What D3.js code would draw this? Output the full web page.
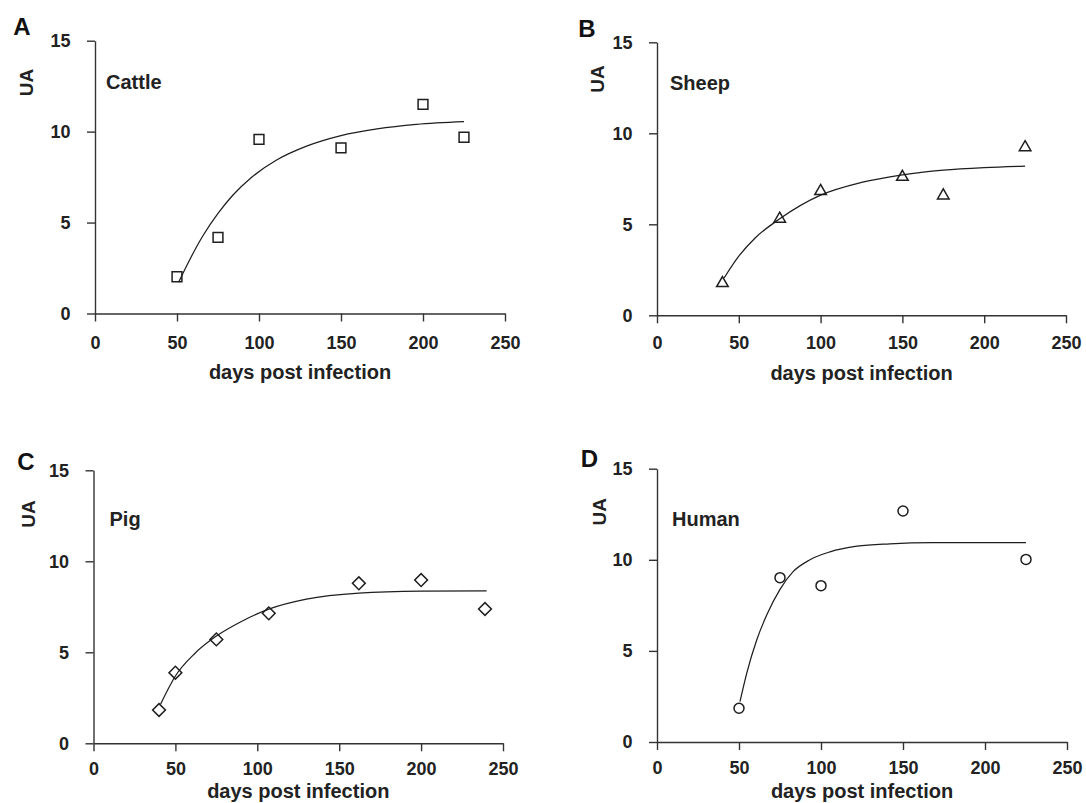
<!DOCTYPE html>
<html>
<head>
<meta charset="utf-8">
<script src="https://cdn.jsdelivr.net/npm/d3@7"></script>
<style>
  body { margin: 0; background: #fff; }
  svg { display: block; font-family: "Liberation Sans", Arial, sans-serif; font-weight: bold; }
</style>
</head>
<body>
<svg id="fig" width="1086" height="803"></svg>
<script>
// Antibody response (UA) against days post infection, four host species.

// Shared axis ticks
const xTicks = [0, 50, 100, 150, 200, 250];
const yTicks = [0, 5, 10, 15];
const xTitle = "days post infection";
const yTitle = "UA";
const panelLetters = ["A", "B", "C", "D"];
const speciesNames = ["Cattle", "Sheep", "Pig", "Human"];

// Cattle
const cattleDays = [50, 75, 100, 150, 200, 225];
const cattleUA   = [2.02, 4.19, 9.57, 9.11, 11.5, 9.69];
const cattleFitDays = [51, 58, 66, 75, 84, 95, 111, 129, 150, 172, 196, 225];
const cattleFitUA   = [1.72, 3.0, 4.3, 5.5, 6.5, 7.45, 8.45, 9.2, 9.78, 10.15, 10.4, 10.55];

// Sheep
const sheepDays = [40, 75, 100, 150, 175, 225];
const sheepUA   = [1.76, 5.3, 6.82, 7.6, 6.58, 9.23];
const sheepFitDays = [41, 50, 60, 75, 100, 125, 150, 175, 200, 225];
const sheepFitUA   = [2.05, 3.25, 4.25, 5.3, 6.6, 7.3, 7.72, 7.98, 8.12, 8.2];

// Pig
const pigDays = [40, 50, 75, 107, 162, 200, 239];
const pigUA   = [1.83, 3.88, 5.71, 7.14, 8.79, 8.97, 7.38];
const pigFitDays = [41, 50, 62, 75, 90, 107, 130, 162, 200, 240];
const pigFitUA   = [2.16, 3.7, 4.95, 5.89, 6.68, 7.37, 7.92, 8.25, 8.36, 8.38];

// Human
const humanDays = [50, 75, 100, 150, 225];
const humanUA   = [1.85, 9.02, 8.58, 12.68, 10.02];
const humanFitDays = [50.6, 54.7, 60.8, 66.9, 75, 83, 93, 105.5, 122, 142, 168, 225];
const humanFitUA   = [2.22, 3.77, 5.6, 6.97, 8.38, 9.35, 9.99, 10.44, 10.75, 10.88, 10.94, 10.94];

const series = [
  { days: cattleDays, ua: cattleUA, fitDays: cattleFitDays, fitUA: cattleFitUA, marker: "square" },
  { days: sheepDays,  ua: sheepUA,  fitDays: sheepFitDays,  fitUA: sheepFitUA,  marker: "triangle" },
  { days: pigDays,    ua: pigUA,    fitDays: pigFitDays,    fitUA: pigFitUA,    marker: "diamond" },
  { days: humanDays,  ua: humanUA,  fitDays: humanFitDays,  fitUA: humanFitUA,  marker: "circle" }
];

// Panel placement on the page
const layout = [
  { x0: 95,   x1: 505,  yB: 313.5, yT: 40.7,  letter: [22, 35],    ua: [33, 82.5],   name: [106, 89.3], tickBase: 35,   titleBase: 65.5 },
  { x0: 657,  x1: 1066, yB: 315.3, yT: 42.3,  letter: [587, 36.7], ua: [604, 79],    name: [670, 90],   tickBase: 33.5, titleBase: 64.5 },
  { x0: 93.5, x1: 503,  yB: 743.3, yT: 470.3, letter: [26, 469.5], ua: [34.7, 514],  name: [109.5, 526], tickBase: 32,  titleBase: 54.5 },
  { x0: 657,  x1: 1067, yB: 742,   yT: 468.7, letter: [589.5, 466.7], ua: [605.5, 511.7], name: [672, 526], tickBase: 31.5, titleBase: 56 }
];

const ink = "#1e1e1e";
const axisInk = "#333";
const tickFont = 18;

const svg = d3.select("#fig");

const symbolFor = {
  square:   d3.symbol().type(d3.symbolSquare).size(96),
  triangle: d3.symbol().type(d3.symbolTriangle).size(58),
  diamond:  d3.symbol().type(d3.symbolSquare).size(82),
  circle:   d3.symbol().type(d3.symbolCircle).size(Math.PI * 25)
};

series.forEach((s, i) => {
  const L = layout[i];
  const g = svg.append("g");

  const x = d3.scaleLinear().domain([0, 250]).range([L.x0, L.x1]);
  const y = d3.scaleLinear().domain([0, 15]).range([L.yB, L.yT]);

  // x axis
  const xAxis = d3.axisBottom(x)
    .tickValues(xTicks)
    .tickSize(8)
    .tickSizeOuter(0)
    .tickPadding(L.tickBase - 8 - 0.71 * tickFont);
  const gx = g.append("g").attr("transform", `translate(0,${L.yB})`).call(xAxis);

  // y axis
  const yAxis = d3.axisLeft(y)
    .tickValues(yTicks)
    .tickSize(8)
    .tickSizeOuter(0)
    .tickPadding(16.5);
  const gy = g.append("g").attr("transform", `translate(${L.x0},0)`).call(yAxis);

  [gx, gy].forEach(ax => {
    ax.select(".domain").attr("stroke", axisInk).attr("stroke-width", 1.4);
    ax.selectAll(".tick line").attr("stroke", axisInk).attr("stroke-width", 1.4);
    ax.selectAll(".tick text")
      .attr("fill", "#222")
      .style("font-family", '"Liberation Sans", Arial, sans-serif')
      .style("font-weight", "bold")
      .style("font-size", tickFont + "px");
  });

  // axis titles
  g.append("text")
    .attr("x", (L.x0 + L.x1) / 2)
    .attr("y", L.yB + L.titleBase)
    .attr("text-anchor", "middle")
    .attr("fill", "#222")
    .style("font-size", "20px")
    .text(xTitle);

  g.append("text")
    .attr("transform", `translate(${L.ua[0]},${L.ua[1]}) rotate(-90)`)
    .attr("text-anchor", "middle")
    .attr("fill", "#222")
    .style("font-size", "19px")
    .text(yTitle);

  // panel letter and species name
  g.append("text")
    .attr("x", L.letter[0])
    .attr("y", L.letter[1])
    .attr("text-anchor", "middle")
    .attr("fill", "#111")
    .style("font-size", "24px")
    .text(panelLetters[i]);

  g.append("text")
    .attr("x", L.name[0])
    .attr("y", L.name[1])
    .attr("fill", "#222")
    .style("font-size", "20px")
    .text(speciesNames[i]);

  // fitted curve
  const fit = s.fitDays.map((d, k) => [d, s.fitUA[k]]);
  g.append("path")
    .datum(fit)
    .attr("fill", "none")
    .attr("stroke", ink)
    .attr("stroke-width", 1.25)
    .attr("d", d3.line().x(d => x(d[0])).y(d => y(d[1])).curve(d3.curveMonotoneX));

  // observed points
  const pts = s.days.map((d, k) => [d, s.ua[k]]);
  g.selectAll("path.pt")
    .data(pts)
    .join("path")
    .attr("class", "pt")
    .attr("transform", d => `translate(${x(d[0])},${y(d[1])})` + (s.marker === "diamond" ? " rotate(45)" : ""))
    .attr("d", symbolFor[s.marker]())
    .attr("fill", "none")
    .attr("stroke", ink)
    .attr("stroke-width", 1.5);
});
</script>
</body>
</html>
